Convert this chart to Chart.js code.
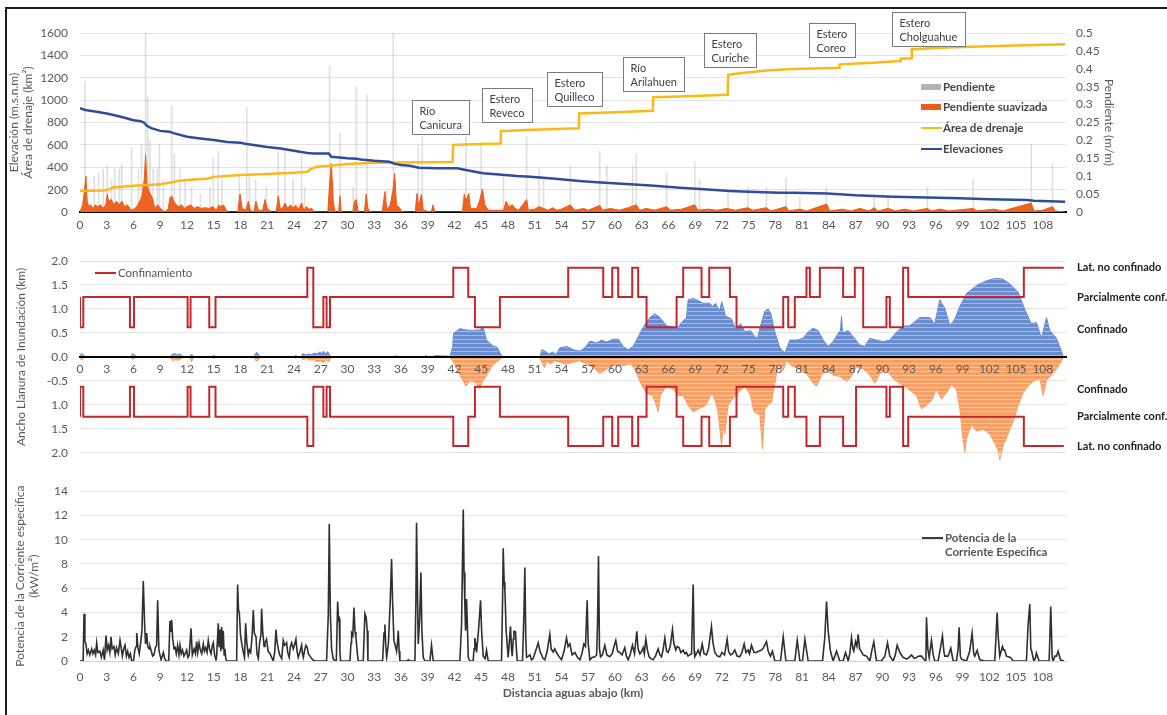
<!DOCTYPE html>
<html>
<head>
<meta charset="utf-8">
<script src="https://cdn.jsdelivr.net/npm/chart.js@4.4.1/dist/chart.umd.min.js"></script>
<style>
  body { margin:0; background:#fff; width:1167px; height:715px; overflow:hidden; position:relative; font-family:Lato, sans-serif; }
  #frame { position:absolute; left:5px; top:7px; width:1200px; height:730px; border:2px solid #1e1e1e; }
  canvas { position:absolute; left:0; }
  .leg { position:absolute; font:bold 11.5px Lato, sans-serif; color:#454545; white-space:nowrap; line-height:14px; }
  .sw { position:absolute; }
</style>
</head>
<body>
<div id="frame"></div>
<canvas id="cTop" width="1167" height="240" style="top:0"></canvas>
<canvas id="cMid" width="1167" height="232" style="top:240px"></canvas>
<canvas id="cBot" width="1167" height="243" style="top:472px"></canvas>

<!-- legends -->
<div class="sw" style="left:921px;top:84px;width:20px;height:6px;background:#b3b3b3"></div>
<div class="leg" style="left:943px;top:80px">Pendiente</div>
<div class="sw" style="left:921px;top:104px;width:20px;height:6px;background:#ea5b1c"></div>
<div class="leg" style="left:943px;top:100px">Pendiente suavizada</div>
<div class="sw" style="left:921px;top:127px;width:21px;height:2px;background:#fbb918"></div>
<div class="leg" style="left:943px;top:121px">Área de drenaje</div>
<div class="sw" style="left:921px;top:148px;width:21px;height:2px;background:#2e4d9a"></div>
<div class="leg" style="left:943px;top:142px">Elevaciones</div>

<div class="sw" style="left:95px;top:272px;width:21px;height:2px;background:#c1272d"></div>
<div class="leg" style="left:118px;top:266px;font-weight:normal;color:#555">Confinamiento</div>

<div class="sw" style="left:922px;top:537px;width:21px;height:2px;background:#3a3a3a"></div>
<div class="leg" style="left:945px;top:531px;color:#555">Potencia de la<br>Corriente Especifica</div>

<script>
"use strict"

// ---------- data ----------
const kmTicks = [0,3,6,9,12,15,18,21,24,27,30,33,36,39,42,45,48,51,54,57,60,63,66,69,72,75,78,81,84,87,90,93,96,99,102,105,108];

// elevation (m.s.n.m) [km, m]
const elevation = [[0,927],[0.6,912],[1.5,900],[3,880],[4,862],[5,842],[6,820],[6.8,812],[7.2,798],[7.5,770],[8,750],[9,725],[10,718],[10.5,705],[12,673],[13.5,658],[15,643],[16.5,626],[18,620],[18.5,610],[21,582],[22.5,568],[24,548],[25.5,528],[26.2,524],[27.9,522],[28.2,493],[30,480],[31,477],[31.5,470],[33,458],[34.7,450],[35.3,430],[36,420],[37,414],[38,396],[40,392],[42.3,390],[43,380],[44,364],[45.2,346],[47,335],[49,322],[50.5,316],[53,300],[56,277],[58,265],[61.7,248],[64,236],[67.3,217],[70,203],[72.9,188],[75,180],[78.5,172],[80,171],[83.8,166],[87,150],[91.2,137],[95,130],[98.7,122],[102,115],[106.2,107],[107,101],[110.5,92]];

// drainage area (km2) [km, km2]
const drainageArea = [[0,188],[2.8,192],[3.3,205],[3.7,220],[6,235],[9,247],[10,262],[11,277],[12,286],[14.4,300],[15,314],[18,331],[21,340],[24,351],[25.5,360],[26,390],[26.6,405],[28,414],[30,428],[33,440],[36,443],[41.8,446],[41.85,600],[44,605],[47.15,612],[47.2,722],[50,733],[55.95,748],[56,880],[60,892],[64.25,904],[64.3,1025],[68,1035],[72.65,1047],[72.7,1225],[74,1240],[77,1265],[80,1278],[85.15,1290],[85.2,1320],[89,1335],[92,1350],[92.05,1370],[93.25,1375],[93.3,1455],[98,1472],[104,1487],[110.5,1500]];

// slope (m/m), raw spikes [km, m/m]
const slopeRaw = [[0.56,0.364],[1.6,0.10],[2.1,0.11],[2.6,0.12],[3.06,0.13],[3.55,0.09],[3.9,0.12],[4.4,0.12],[4.67,0.135],[5.8,0.18],[6.55,0.12],[6.9,0.19],[7.36,0.5],[7.6,0.32],[7.85,0.2],[8.2,0.12],[8.67,0.12],[8.9,0.19],[9.35,0.09],[10.28,0.296],[10.58,0.16],[11.2,0.12],[11.8,0.09],[12.5,0.07],[13.5,0.05],[14.58,0.07],[14.95,0.15],[15.5,0.17],[15.9,0.09],[17.87,0.1],[18.7,0.294],[19.0,0.1],[19.7,0.09],[20.9,0.07],[22.24,0.17],[22.99,0.17],[23.9,0.09],[24.86,0.16],[25.2,0.07],[28.0,0.406],[28.4,0.09],[29.16,0.22],[30.65,0.07],[31.0,0.35],[32.2,0.327],[34.4,0.06],[35.14,0.5],[37.95,0.187],[38.4,0.21],[43.3,0.21],[45.0,0.19],[47.5,0.1],[50.1,0.21],[51.5,0.12],[52.0,0.09],[55.0,0.13],[58.3,0.17],[59.1,0.13],[62.0,0.13],[62.4,0.16],[65.8,0.11],[68.96,0.14],[69.5,0.09],[72.7,0.06],[74.94,0.07],[77.0,0.07],[79.2,0.094],[80.75,0.04],[83.74,0.07],[89.1,0.05],[90.65,0.04],[95.06,0.07],[100.2,0.09],[106.7,0.19],[109.08,0.135]];

// smoothed slope (m/m) [km, m/m]
const slopeSmooth = [[0,0],[0.3,0.02],[0.5,0.06],[0.67,0.10],[0.8,0.03],[1.0,0.015],[1.2,0.02],[1.5,0.01],[1.7,0.02],[2.0,0.015],[2.3,0.02],[2.6,0.01],[2.9,0.02],[3.06,0.05],[3.2,0.03],[3.5,0.035],[3.8,0.02],[4.1,0.03],[4.4,0.02],[4.7,0.03],[5.0,0.015],[5.3,0.02],[5.6,0.01],[5.8,0.005],[6.2,0.01],[6.5,0.02],[6.8,0.035],[7.0,0.05],[7.2,0.09],[7.36,0.16],[7.5,0.08],[7.7,0.06],[7.9,0.05],[8.1,0.04],[8.3,0.02],[8.5,0.01],[8.7,0.02],[8.9,0.015],[9.2,0.005],[9.6,0],[9.9,0.01],[10.1,0.04],[10.3,0.045],[10.5,0.03],[10.8,0.02],[11.1,0.015],[11.4,0.02],[11.7,0.01],[12.0,0.015],[12.4,0.02],[12.8,0.01],[13.2,0.015],[13.6,0.01],[14.0,0.012],[14.5,0.01],[14.9,0.015],[15.3,0.005],[15.6,0.02],[15.8,0.015],[16.1,0.02],[16.4,0.005],[16.8,0],[17.7,0],[17.95,0.05],[18.2,0.01],[18.6,0.005],[18.9,0.03],[19.1,0.005],[19.5,0],[19.74,0.03],[20.0,0.005],[20.5,0.005],[20.75,0.035],[21.0,0.01],[21.5,0],[22.0,0],[22.24,0.045],[22.5,0.005],[22.8,0.015],[23.0,0.025],[23.3,0.01],[23.6,0.02],[23.9,0.012],[24.2,0.018],[24.5,0.008],[24.86,0.025],[25.1,0.005],[25.4,0.015],[25.7,0.008],[26.0,0.01],[26.3,0],[27.8,0],[28.0,0.08],[28.2,0.135],[28.4,0.03],[28.6,0],[29.0,0],[29.16,0.045],[29.3,0],[30.6,0],[30.8,0.03],[31.0,0.035],[31.2,0],[31.9,0],[32.1,0.05],[32.3,0.01],[32.6,0],[33.9,0],[34.2,0.057],[34.4,0.005],[34.8,0.02],[35.1,0.06],[35.3,0.108],[35.5,0.02],[35.9,0.01],[36.2,0],[37.6,0],[37.8,0.052],[38.0,0.015],[38.3,0.05],[38.5,0.005],[39.4,0],[39.6,0.02],[39.8,0],[42.9,0],[43.1,0.05],[43.3,0.03],[43.6,0.052],[43.8,0.01],[44.5,0.01],[44.8,0.03],[45.15,0.064],[45.4,0.02],[45.8,0.005],[47.5,0.005],[47.8,0.03],[48.1,0.015],[48.5,0.02],[48.8,0.01],[49.2,0.005],[50.1,0.035],[50.3,0.005],[51.0,0.008],[51.5,0.015],[52.0,0.01],[52.5,0.005],[53.0,0.012],[53.5,0.005],[54.0,0.008],[55.0,0.02],[55.5,0.005],[56.5,0.01],[57.0,0.005],[58.3,0.018],[58.6,0.005],[59.5,0.01],[60.5,0.005],[61.5,0.012],[62.4,0.02],[62.8,0.005],[63.5,0.01],[64.5,0.005],[65.8,0.015],[66.2,0.005],[67.5,0.008],[68.96,0.02],[69.3,0.005],[70.5,0.008],[71.5,0.005],[72.5,0.01],[73.5,0.005],[74.9,0.012],[75.5,0.005],[77.0,0.012],[77.5,0.003],[79.2,0.015],[79.5,0.003],[80.75,0.008],[81.5,0.003],[83.74,0.022],[84.1,0.003],[85.5,0.008],[86.5,0.003],[87.5,0.01],[88.5,0.003],[89.1,0.012],[89.5,0.003],[90.65,0.01],[91.5,0.003],[92.5,0.008],[93.5,0.003],[95.06,0.01],[95.5,0.003],[96.5,0.008],[97.5,0.003],[100.2,0.01],[100.6,0.003],[102.5,0.008],[103.5,0.003],[106.7,0.025],[107.0,0.003],[108.0,0.005],[109.08,0.015],[109.4,0.003],[110.5,0]];

// floodplain width (km): one bank above, the other below [km, km]
const widthUpper = [[0,0],[0.15,0.07],[0.4,0.04],[0.6,0],[5.7,0],[5.9,0.07],[6.2,0.03],[6.4,0],[10.1,0],[10.3,0.05],[10.6,0.07],[10.9,0.04],[11.2,0.06],[11.5,0.02],[11.8,0],[12.3,0],[12.5,0.06],[12.7,0.02],[12.9,0],[14.8,0],[15.0,0.04],[15.2,0],[19.5,0],[19.8,0.1],[20.1,0.03],[20.3,0],[24,0],[24.2,0.04],[24.4,0],[24.8,0],[25.0,0.07],[25.3,0.04],[25.6,0.06],[26.0,0.05],[26.3,0.08],[26.6,0.06],[26.9,0.1],[27.1,0.07],[27.3,0.12],[27.5,0.06],[27.8,0.11],[28.0,0.04],[28.2,0],[35.3,0],[35.5,0.03],[35.7,0],[38.6,0],[38.8,0.03],[39.0,0],[39.6,0],[39.8,0.03],[40.5,0.02],[41.0,0.02],[41.5,0.01],[41.8,0.2],[41.9,0.49],[42.6,0.59],[43.3,0.56],[44.0,0.55],[44.8,0.56],[45.2,0.63],[45.6,0.35],[46.3,0.23],[46.8,0.2],[47.1,0.09],[47.4,0],[51.6,0],[51.8,0.15],[52.2,0.12],[52.6,0.06],[53.0,0.1],[53.4,0.05],[53.83,0.19],[54.58,0.22],[55.33,0.15],[56.07,0.12],[56.63,0.19],[57.19,0.33],[57.94,0.29],[58.5,0.35],[59.06,0.31],[59.81,0.37],[60.37,0.37],[60.93,0.22],[61.49,0.15],[62.05,0.22],[62.61,0.42],[63.18,0.62],[63.92,0.82],[64.48,0.9],[65.05,0.82],[65.79,0.65],[66.54,0.62],[67.1,0.62],[67.47,0.72],[68.03,0.82],[68.22,1.19],[68.78,1.22],[69.16,1.19],[69.9,1.12],[70.65,1.12],[70.95,1.05],[71.3,1.12],[71.7,0.95],[72.0,1.15],[72.4,0.85],[73.1,0.79],[73.5,0.59],[74.1,0.69],[74.6,0.52],[75.2,0.55],[75.7,0.42],[76.0,0.39],[76.26,0.59],[76.8,0.95],[77.19,1.0],[77.5,0.9],[77.94,0.52],[78.5,0.19],[79.06,0.08],[79.62,0.35],[80.37,0.35],[81.12,0.39],[81.68,0.52],[82.24,0.6],[82.8,0.55],[83.36,0.35],[83.92,0.22],[84.48,0.32],[85.04,0.49],[85.3,0.55],[85.42,0.85],[85.55,0.5],[86.17,0.55],[86.73,0.42],[87.47,0.25],[88.03,0.22],[88.6,0.39],[89.34,0.35],[90.09,0.32],[90.84,0.35],[91.59,0.52],[92.33,0.64],[93.08,0.65],[94.2,0.82],[95.32,0.82],[95.88,0.69],[96.45,1.19],[97.0,1.02],[97.57,0.65],[98.13,0.79],[98.69,1.05],[99.44,1.32],[100.56,1.49],[101.68,1.59],[102.8,1.64],[103.55,1.62],[104.3,1.52],[105.23,1.35],[105.98,0.99],[106.72,0.69],[107.29,0.72],[107.85,0.39],[108.41,0.82],[108.78,0.55],[109.53,0.39],[110.09,0.12],[110.3,0]];
const widthLower = [[0,0],[0.15,-0.06],[0.4,-0.03],[0.6,0],[5.7,0],[5.9,-0.05],[6.2,-0.02],[6.4,0],[10.1,0],[10.4,-0.08],[10.7,-0.05],[11.0,-0.07],[11.4,-0.03],[11.8,0],[12.3,0],[12.5,-0.1],[12.7,-0.03],[12.9,0],[14.8,0],[15.0,-0.04],[15.2,0],[19.5,0],[19.8,-0.1],[20.1,-0.04],[20.3,0],[24,0],[24.2,-0.04],[24.4,0],[24.8,0],[25.0,-0.06],[25.4,-0.03],[25.8,-0.07],[26.2,-0.05],[26.6,-0.1],[27.0,-0.08],[27.3,-0.12],[27.6,-0.06],[27.9,-0.1],[28.2,0],[41.5,0],[41.9,-0.11],[42.6,-0.37],[43.3,-0.61],[43.7,-0.5],[44.1,-0.51],[44.5,-0.55],[44.8,-0.66],[45.2,-0.5],[45.6,-0.39],[46.3,-0.17],[47.1,-0.05],[47.4,0],[51.6,0],[51.8,-0.12],[52.1,-0.22],[52.4,-0.09],[52.8,-0.15],[53.2,-0.08],[53.83,-0.11],[54.58,-0.15],[55.33,-0.11],[56.07,-0.08],[57.19,-0.18],[57.8,-0.25],[58.3,-0.35],[59.06,-0.25],[59.81,-0.18],[60.93,-0.18],[61.8,-0.15],[62.3,-0.28],[62.9,-0.55],[63.5,-0.75],[64.2,-0.81],[64.55,-0.95],[64.85,-1.15],[65.1,-0.8],[65.79,-0.61],[66.54,-0.68],[67.1,-0.81],[67.6,-0.8],[68.22,-1.01],[68.78,-1.15],[69.4,-1.08],[70.2,-1.01],[70.9,-0.75],[71.4,-1.0],[71.6,-1.2],[71.77,-1.48],[71.96,-1.88],[72.15,-1.4],[72.33,-1.61],[72.7,-1.0],[73.2,-0.88],[73.8,-0.75],[74.6,-0.61],[75.2,-0.8],[75.6,-1.15],[76.26,-1.2],[76.55,-1.92],[76.8,-1.1],[77.2,-1.0],[77.57,-0.95],[77.94,-0.55],[78.32,-0.15],[78.88,-0.28],[79.25,-0.08],[79.81,-0.18],[80.56,-0.25],[81.49,-0.35],[82.24,-0.55],[82.61,-0.61],[83.18,-0.38],[83.74,-0.28],[84.48,-0.38],[85.23,-0.41],[85.98,-0.51],[86.35,-0.45],[87.1,-0.21],[87.85,-0.25],[88.6,-0.38],[89.16,-0.55],[89.72,-0.35],[90.46,-0.28],[91.21,-0.45],[91.96,-0.55],[92.71,-0.64],[93.83,-0.81],[94.39,-1.08],[94.95,-1.01],[95.51,-0.91],[96.07,-0.68],[96.63,-0.88],[97.19,-0.75],[97.75,-0.58],[98.31,-0.68],[98.69,-1.08],[99.06,-1.75],[99.25,-1.98],[99.44,-1.7],[100.0,-1.41],[100.56,-1.55],[101.3,-1.51],[102.05,-1.61],[102.61,-1.81],[103.0,-1.95],[103.17,-2.15],[103.55,-1.85],[104.11,-1.61],[104.67,-1.35],[105.23,-1.01],[105.79,-0.75],[106.35,-0.61],[106.91,-0.51],[107.66,-0.45],[108.03,-0.81],[108.41,-0.48],[109.15,-0.35],[109.9,-0.15],[110.3,0]];

// confinement class (level where each stretch starts) [km, level]
const confUpper = [[0,1.25],[0.37,0.62],[5.6,1.25],[6.06,0.62],[12.07,1.25],[12.4,0.62],[14.5,1.25],[15.2,0.62],[25.5,1.25],[26.17,1.86],[27.3,0.62],[27.66,1.25],[28.04,0.62],[41.87,1.25],[43.55,1.86],[44.3,1.25],[47.1,0.62],[54.76,1.25],[58.69,1.86],[59.7,1.25],[60.37,1.86],[61.94,1.25],[62.61,1.86],[63.55,1.25],[66.92,0.62],[67.66,1.25],[69.72,1.86],[70.58,1.25],[72.9,1.86],[73.64,1.25],[78.88,0.62],[79.44,1.25],[80.18,0.62],[81.49,1.25],[81.87,1.86],[82.99,1.25],[85.6,1.86],[86.91,1.25],[87.85,1.86],[90.46,0.62],[90.84,1.25],[92.33,0.62],[92.9,1.86],[105.87,1.25],[108.6,1.86],[110.35,1.86]];
const confLower = [[0,-1.25],[0.37,-0.62],[5.6,-1.25],[6.06,-0.62],[12.07,-1.25],[12.4,-0.62],[14.5,-1.25],[15.2,-0.62],[25.5,-1.25],[26.17,-1.86],[27.3,-0.62],[27.66,-1.25],[28.04,-0.62],[41.87,-1.25],[43.55,-1.86],[44.3,-1.25],[47.1,-0.62],[54.76,-1.25],[58.69,-1.86],[59.7,-1.25],[60.37,-1.86],[61.94,-1.25],[62.61,-1.86],[63.55,-1.25],[66.92,-0.62],[67.66,-1.25],[69.72,-1.86],[70.58,-1.25],[72.9,-1.86],[73.64,-1.25],[78.88,-0.62],[79.44,-1.25],[80.18,-0.62],[81.49,-1.25],[82.99,-1.86],[85.6,-1.25],[87.05,-1.86],[90.46,-0.62],[90.84,-1.25],[92.33,-0.62],[92.9,-1.86],[105.87,-1.25],[108.6,-1.86],[110.35,-1.86]];
const confLevels = [1.86, 1.25, 0.62, -0.62, -1.25, -1.86];
const confNames = ['Lat. no confinado', 'Parcialmente conf.', 'Confinado', 'Confinado', 'Parcialmente conf.', 'Lat. no confinado'];
const widthTickLabels = ['2.0','1.5','1.0','0.5','0.0','-0.5','1.0','1.5','2.0'];

// specific stream power (kW/m2) [km, kW/m2]
const streamPower = [[0,0],[0.35,0],[0.45,3.9],[0.55,1.6],[0.67,1.4],[0.8,0.6],[0.94,0.9],[1.1,0.5],[1.31,1.0],[1.45,0.6],[1.6,0.9],[1.75,0.5],[1.87,1.5],[2.0,0.7],[2.24,0.8],[2.4,0.3],[2.6,0.9],[2.75,0.1],[2.92,2.1],[3.05,0.9],[3.2,1.3],[3.35,0.7],[3.48,2.0],[3.6,1.0],[3.8,1.2],[3.95,0.5],[4.1,1.1],[4.3,0.6],[4.49,1.7],[4.6,1.2],[4.75,0.4],[4.9,1.0],[5.05,1.3],[5.2,0.4],[5.35,0.8],[5.5,0.3],[5.65,0.6],[5.8,0],[6.0,0],[6.15,0.9],[6.3,1.2],[6.36,2.3],[6.5,1.1],[6.65,0.6],[6.8,1.5],[6.95,2.5],[7.1,6.6],[7.25,3.0],[7.35,1.4],[7.48,2.3],[7.6,1.2],[7.75,1.0],[7.85,1.2],[8.0,0.8],[8.15,0.4],[8.3,0.5],[8.45,1.1],[8.6,1.3],[8.71,5.0],[8.85,0.9],[8.97,0.5],[9.1,0.1],[9.35,0.7],[9.5,0.2],[9.65,0],[9.95,0],[10.09,3.3],[10.18,2.4],[10.28,3.4],[10.4,1.8],[10.55,1.0],[10.65,1.2],[10.8,0.6],[10.95,1.3],[11.1,0.5],[11.22,1.3],[11.35,0.6],[11.5,0.9],[11.65,0.4],[11.8,0.6],[11.96,0.9],[12.1,0.3],[12.25,0.5],[12.45,2.7],[12.6,0.5],[12.8,1.0],[12.95,0.6],[13.08,1.6],[13.2,0.7],[13.35,1.5],[13.5,0.9],[13.65,0.6],[13.83,1.4],[13.95,0.8],[14.1,1.1],[14.25,0.7],[14.39,1.7],[14.55,0.9],[14.7,0.6],[14.85,1.3],[14.95,1.5],[15.1,0.5],[15.25,0.1],[15.33,0.4],[15.51,3.1],[15.6,1.2],[15.7,2.6],[15.8,0.8],[15.89,2.8],[16.0,1.0],[16.07,2.5],[16.17,0.5],[16.26,1.0],[16.35,0.2],[16.45,0],[17.57,0],[17.68,6.3],[17.78,4.2],[17.87,4.0],[18.0,2.2],[18.13,1.5],[18.3,0.8],[18.45,0.3],[18.58,3.1],[18.7,1.6],[18.88,0.5],[19.0,0.9],[19.14,0.7],[19.3,2.0],[19.44,4.2],[19.55,2.3],[19.74,2.0],[19.85,0.6],[20.0,0.2],[20.15,1.5],[20.3,2.2],[20.37,4.3],[20.5,2.4],[20.65,1.2],[20.75,1.5],[20.93,1.8],[21.1,0.8],[21.31,0.6],[21.5,0.3],[21.68,0],[21.85,0.8],[21.98,2.6],[22.1,1.6],[22.24,1.0],[22.4,0.5],[22.62,0.2],[22.8,1.7],[22.95,1.3],[23.1,1.4],[23.18,1.5],[23.3,0.7],[23.47,0.3],[23.6,1.2],[23.74,1.5],[23.92,1.0],[24.05,1.3],[24.22,1.8],[24.35,0.8],[24.48,0.3],[24.65,0.7],[24.86,1.3],[24.95,0.6],[25.05,0.3],[25.2,0.9],[25.34,1.3],[25.5,1.1],[25.61,0.6],[25.8,0.4],[25.98,0.2],[26.2,0.05],[26.35,0],[27.66,0],[27.85,3.8],[27.96,11.3],[28.08,4.0],[28.22,1.0],[28.4,0.2],[28.6,0],[28.75,0],[28.9,4.9],[29.0,3.4],[29.08,3.5],[29.15,0.8],[29.23,0],[30.28,0],[30.4,1.5],[30.47,2.3],[30.6,2.1],[30.73,4.4],[30.85,2.4],[30.95,2.0],[31.1,0.7],[31.21,0],[31.77,0],[31.96,3.9],[32.1,3.6],[32.22,2.5],[32.3,0],[33.94,0],[34.1,2.3],[34.2,3.0],[34.3,1.2],[34.4,0.3],[34.6,1.5],[34.8,5.0],[34.95,8.4],[35.05,5.2],[35.21,1.7],[35.35,1.3],[35.51,0.8],[35.6,1.4],[35.7,2.5],[35.8,0.8],[35.88,0],[36.7,0],[36.82,0.1],[36.95,0],[37.57,0],[37.68,5.0],[37.75,11.4],[37.85,6.0],[37.94,1.4],[38.1,3.5],[38.24,7.3],[38.35,2.5],[38.5,0.3],[38.69,0],[39.25,0],[39.43,1.3],[39.62,0],[42.61,0],[42.8,3.0],[42.99,12.5],[43.08,7.3],[43.17,4.6],[43.25,2.5],[43.36,5.1],[43.45,3.0],[43.55,0.3],[43.73,0],[44.1,0],[44.2,1.0],[44.29,1.9],[44.4,1.3],[44.48,0.7],[44.7,2.5],[44.93,5.0],[45.05,2.5],[45.23,0.4],[45.45,0.2],[45.6,0.9],[45.79,0],[47.28,0],[47.4,5.0],[47.47,9.3],[47.58,6.5],[47.66,5.9],[47.8,2.5],[48.03,0.3],[48.15,1.5],[48.29,2.85],[48.4,1.0],[48.48,0.4],[48.6,1.8],[48.67,2.45],[48.85,2.4],[48.95,1.0],[49.04,0],[49.64,0],[49.8,4.0],[49.9,7.7],[50.0,2.0],[50.09,0.3],[50.3,0.4],[50.46,0.5],[50.65,0.1],[50.83,0.2],[51.1,0.8],[51.4,1.5],[51.6,0.8],[51.77,0.5],[51.95,0.2],[52.14,0.1],[52.4,0.8],[52.7,2.2],[52.85,1.0],[53.08,0.74],[53.25,1.0],[53.45,0.7],[53.7,0.4],[54.01,0.1],[54.3,0.8],[54.57,1.9],[54.75,1.2],[54.95,1.4],[55.2,0.5],[55.51,0.7],[55.8,0.3],[56.07,0.1],[56.3,0.6],[56.52,1.4],[56.7,1.2],[56.89,5.0],[57.0,1.5],[57.19,0.1],[57.45,0.3],[57.75,0.35],[57.95,0.5],[58.05,3.0],[58.16,8.65],[58.27,1.0],[58.39,0.35],[58.6,0.5],[58.87,1.3],[59.1,0.5],[59.43,0.35],[59.7,0.6],[59.9,1.2],[60.1,1.7],[60.3,0.8],[60.55,0.7],[60.8,0.5],[61.11,1.1],[61.3,0.4],[61.49,0.1],[61.7,0.5],[61.97,1.3],[62.2,0.6],[62.46,2.45],[62.6,1.0],[62.8,0.6],[63.0,0.8],[63.17,1.1],[63.3,0.6],[63.47,1.8],[63.65,0.9],[63.84,0.35],[64.05,0.2],[64.29,0.1],[64.55,0.4],[64.85,1.0],[65.05,0.5],[65.23,0.35],[65.4,0.9],[65.6,1.9],[65.8,0.8],[65.97,0.7],[66.2,1.2],[66.46,2.6],[66.6,1.5],[66.83,0.9],[67.0,1.2],[67.21,1.1],[67.4,0.7],[67.66,0.9],[67.85,0.6],[68.03,0.7],[68.2,0.4],[68.4,0.5],[68.6,0.6],[68.78,6.3],[68.9,0.8],[68.96,0.35],[69.15,0.6],[69.34,0.9],[69.55,0.5],[69.79,1.4],[70.0,0.6],[70.27,0.5],[70.5,1.0],[70.83,2.85],[71.0,1.5],[71.21,0.7],[71.5,0.4],[71.77,0.35],[72.0,0.7],[72.3,0.5],[72.59,1.8],[72.75,0.8],[72.96,0.5],[73.2,0.6],[73.45,0.9],[73.7,0.4],[74.01,0.35],[74.25,0.7],[74.5,1.4],[74.7,0.7],[74.94,0.9],[75.1,0.6],[75.32,1.3],[75.6,0.7],[75.88,0.7],[76.1,0.8],[76.44,0.9],[76.63,1.05],[77.0,1.6],[77.2,0.8],[77.45,0.4],[77.68,0.8],[77.94,0],[78.58,0],[78.88,2.0],[79.18,0],[80.18,0],[80.45,1.7],[80.75,0],[81.04,0],[81.31,1.8],[81.68,0],[83.29,0],[83.55,2.0],[83.74,4.9],[83.92,2.5],[84.18,0.8],[84.48,0],[84.86,0.8],[85.23,0],[85.6,0],[85.87,0.7],[86.17,0],[86.35,0.6],[86.54,1.93],[86.7,1.0],[86.8,0.8],[86.99,1.6],[87.15,1.2],[87.29,2.2],[87.45,1.0],[87.55,0.9],[87.85,0.5],[88.22,0.4],[88.6,0],[88.8,0.8],[89.04,1.58],[89.34,0],[89.9,0],[90.28,0.4],[90.58,1.5],[90.84,0.4],[91.21,0],[91.45,0.5],[91.66,1.3],[91.96,0.7],[92.33,0.3],[92.71,0.15],[93.0,0.3],[93.27,0.5],[93.6,0.2],[93.83,0.3],[94.1,0.4],[94.39,0.4],[94.7,0.1],[94.88,0],[94.95,3.6],[95.1,1.0],[95.25,0.3],[95.51,1.7],[95.7,0.5],[95.88,0],[96.26,0],[96.5,1.0],[96.74,2.06],[96.9,0.8],[97.0,0.4],[97.38,0.4],[97.68,1.05],[97.94,0],[98.31,0],[98.5,1.0],[98.61,2.77],[98.75,0.4],[98.87,0.15],[99.44,0],[99.8,0.8],[100.07,2.3],[100.25,0.6],[100.37,0.4],[100.63,0.87],[100.93,0.1],[101.49,0],[102.61,0],[102.75,2.0],[102.87,4.0],[103.0,2.0],[103.17,0.4],[103.47,1.2],[103.6,0.9],[103.73,0.9],[103.92,0.4],[104.37,0.3],[104.67,0],[106.16,0],[106.35,3.0],[106.54,4.7],[106.65,1.0],[106.72,0.9],[106.99,0],[107.15,0.2],[107.28,0.66],[107.58,0],[108.71,0],[108.89,4.5],[109.05,0.3],[109.15,0],[109.35,0.4],[109.53,0.4],[109.72,0.8],[109.98,0.1],[110.35,0]];

// tributary labels
const tributaryNames = [['Río','Canicura'],['Estero','Reveco'],['Estero','Quilleco'],['Río','Arilahuen'],['Estero','Curiche'],['Estero','Coreo'],['Estero','Cholguahue']];

// ---------- helpers ----------
const toXY = arr => arr.map(([x, y]) => ({x, y}));
const tickColor = '#595959';
const tickFont = {family: 'Lato', size: 12};
const titleFont = {family: 'Lato', size: 12, lineHeight: 1.1};
const gridColor = '#e3e3e3';

Chart.defaults.font.family = 'Lato';
Chart.defaults.animation = false;
Chart.defaults.events = [];
Chart.defaults.plugins.legend.display = false;
Chart.defaults.plugins.tooltip.enabled = false;

function kmAxis(extra) {
  return Object.assign({
    type: 'linear', min: 0, max: 110.6, offset: false,
    grid: {display: false, offset: false, drawTicks: false},
    border: {color: '#000', width: 2},
    afterBuildTicks: s => { s.ticks = kmTicks.map(v => ({value: v})); },
    ticks: {autoSkip: false, maxRotation: 0, padding: 6, color: tickColor, font: tickFont, callback: v => String(v)}
  }, extra);
}

function stripes(base, light) {
  const c = document.createElement('canvas');
  c.width = 4; c.height = 4;
  const g = c.getContext('2d');
  g.fillStyle = base; g.fillRect(0, 0, 4, 4);
  g.fillStyle = light; g.fillRect(0, 3, 4, 1);
  return g.createPattern(c, 'repeat');
}

// boxes for tributary names, anchored at [km, elevation-axis value] of their top-left corner
const boxAnchors = [[37.2, 1000], [45.1, 1110], [52.4, 1252], [60.9, 1386], [70.0, 1600], [81.75, 1690], [91.05, 1790]];
const tributaryPlugin = {
  id: 'tributaries',
  afterDatasetsDraw(chart) {
    const {ctx, scales} = chart;
    ctx.save();
    ctx.font = '11px Lato';
    tributaryNames.forEach((lines, i) => {
      const left = Math.round(scales.x.getPixelForValue(boxAnchors[i][0])) + 0.5;
      const top = Math.round(scales.y.getPixelForValue(boxAnchors[i][1])) + 0.5;
      const w = Math.round(Math.max(...lines.map(s => ctx.measureText(s).width)) + 15);
      const h = 34;
      ctx.fillStyle = '#fff';
      ctx.fillRect(left, top, w, h);
      ctx.strokeStyle = '#7a7a7a';
      ctx.lineWidth = 1;
      ctx.strokeRect(left, top, w, h);
      ctx.fillStyle = '#404040';
      ctx.textBaseline = 'middle';
      ctx.fillText(lines[0], left + 7, top + 11);
      ctx.fillText(lines[1], left + 7, top + 25);
    });
    ctx.restore();
  }
};

const confLabelPlugin = {
  id: 'confLabels',
  afterDraw(chart) {
    const {ctx, scales} = chart;
    ctx.save();
    ctx.font = 'bold 11px Lato';
    ctx.fillStyle = '#222';
    ctx.textBaseline = 'middle';
    confLevels.forEach((lv, i) => {
      const y = scales.y.getPixelForValue(lv) + (Math.abs(lv) < 1 ? (lv > 0 ? 2 : 3) : 0);
      ctx.fillText(confNames[i], 1077, y);
    });
    ctx.restore();
  }
};

// ---------- top: elevation, drainage area and slope ----------
new Chart(document.getElementById('cTop'), {
  type: 'line',
  data: {
    datasets: [
      {label: 'Elevaciones', data: toXY(elevation), borderColor: '#2e4d9a', borderWidth: 2.5, pointRadius: 0, tension: 0, yAxisID: 'y', order: 0},
      {label: 'Área de drenaje', data: toXY(drainageArea), borderColor: '#fbb918', borderWidth: 2.5, pointRadius: 0, tension: 0, yAxisID: 'y', order: 1},
      {label: 'Pendiente suavizada', data: toXY(slopeSmooth), borderColor: '#ea5b1c', backgroundColor: '#ec6420', borderWidth: 1, fill: 'origin', pointRadius: 0, tension: 0, yAxisID: 'y2', order: 2},
      {type: 'bar', label: 'Pendiente', data: toXY(slopeRaw), backgroundColor: 'rgba(160,160,160,0.32)', barThickness: 1, yAxisID: 'y2', order: 3}
    ]
  },
  options: {
    responsive: false,
    layout: {padding: {top: 33, bottom: 3, left: 0, right: 0}},
    scales: {
      x: kmAxis({afterFit: s => { s.height = 25; }}),
      y: {
        position: 'left', min: 0, max: 1600,
        afterFit: s => { s.width = 80; },
        grid: {color: gridColor, drawTicks: false},
        border: {display: false},
        ticks: {stepSize: 200, padding: 12, color: tickColor, font: tickFont, callback: v => String(v)},
        title: {display: true, text: ['Elevación (m.s.n.m)', 'Área de drenaje (km²)'], color: tickColor, font: titleFont, padding: {top: 8, bottom: 0}}
      },
      y2: {
        position: 'right', min: 0, max: 0.5,
        afterFit: s => { s.width = 101; },
        grid: {display: false, drawTicks: false},
        border: {display: false},
        ticks: {stepSize: 0.05, padding: 10, color: tickColor, font: tickFont, callback: v => String(+v.toFixed(2))},
        title: {display: true, text: 'Pendiente (m/m)', color: tickColor, font: titleFont, padding: {top: 52, bottom: 0}}
      }
    }
  },
  plugins: [tributaryPlugin]
});

// ---------- middle: floodplain width and confinement ----------
new Chart(document.getElementById('cMid'), {
  type: 'line',
  data: {
    datasets: [
      {label: 'Confinamiento', data: toXY(confUpper), stepped: 'after', borderColor: '#c1272d', borderWidth: 2, pointRadius: 0, order: 0},
      {label: 'Confinamiento inferior', data: toXY(confLower), stepped: 'after', borderColor: '#c1272d', borderWidth: 2, pointRadius: 0, order: 0},
      {label: 'Ancho margen 1', data: toXY(widthUpper), borderColor: '#6a8dd0', borderWidth: 1, backgroundColor: stripes('#6a8dd0', '#a4bbe6'), fill: 'origin', pointRadius: 0, tension: 0, order: 1},
      {label: 'Ancho margen 2', data: toXY(widthLower), borderColor: '#f4a066', borderWidth: 1, backgroundColor: stripes('#f4a066', '#f9c7a2'), fill: 'origin', pointRadius: 0, tension: 0, clip: false, order: 1}
    ]
  },
  options: {
    responsive: false,
    layout: {padding: {top: 21, bottom: 12, left: 0, right: 101}},
    scales: {
      x: kmAxis({
        position: {y: 0},
        afterFit: s => { s.height = 0; },
        border: {color: '#000', width: 2, z: 1},
        ticks: {autoSkip: false, maxRotation: 0, padding: 5, z: 1, color: tickColor, font: tickFont, callback: v => String(v)}
      }),
      y: {
        min: -2, max: 2,
        afterFit: s => { s.width = 80; },
        grid: {color: gridColor, drawTicks: false},
        border: {display: false},
        ticks: {stepSize: 0.5, padding: 12, color: tickColor, font: tickFont, callback: (v, i, t) => widthTickLabels[t.length - 1 - i]},
        title: {display: true, text: 'Ancho Llanura de Inundación (km)', color: tickColor, font: titleFont, padding: {top: 15, bottom: 0}}
      }
    }
  },
  plugins: [confLabelPlugin]
});

// ---------- bottom: specific stream power ----------
new Chart(document.getElementById('cBot'), {
  type: 'line',
  data: {
    datasets: [
      {label: 'Potencia de la Corriente Especifica', data: toXY(streamPower), borderColor: '#2f2f2f', borderWidth: 1.6, pointRadius: 0, tension: 0}
    ]
  },
  options: {
    responsive: false,
    layout: {padding: {top: 12, bottom: 14, left: 0, right: 101}},
    scales: {
      x: kmAxis({
        border: {color: '#d0d0d0', width: 1},
        afterFit: s => { s.height = 40; },
        ticks: {autoSkip: false, maxRotation: 0, padding: 9, color: tickColor, font: tickFont, callback: v => String(v)},
        title: {display: true, text: 'Distancia aguas abajo (km)', color: tickColor, font: {family: 'Lato', size: 12, weight: 'bold'}, padding: {top: 0, bottom: 1}}
      }),
      y: {
        min: 0, max: 14,
        afterFit: s => { s.width = 80; },
        grid: {color: gridColor, drawTicks: false},
        border: {display: false},
        ticks: {stepSize: 2, padding: 12, color: tickColor, font: tickFont},
        title: {display: true, text: ['Potencia de la Corriente especifica', '(kW/m²)'], color: tickColor, font: titleFont, padding: {top: 14, bottom: 0}}
      }
    }
  }
});
</script>
</body>
</html>
